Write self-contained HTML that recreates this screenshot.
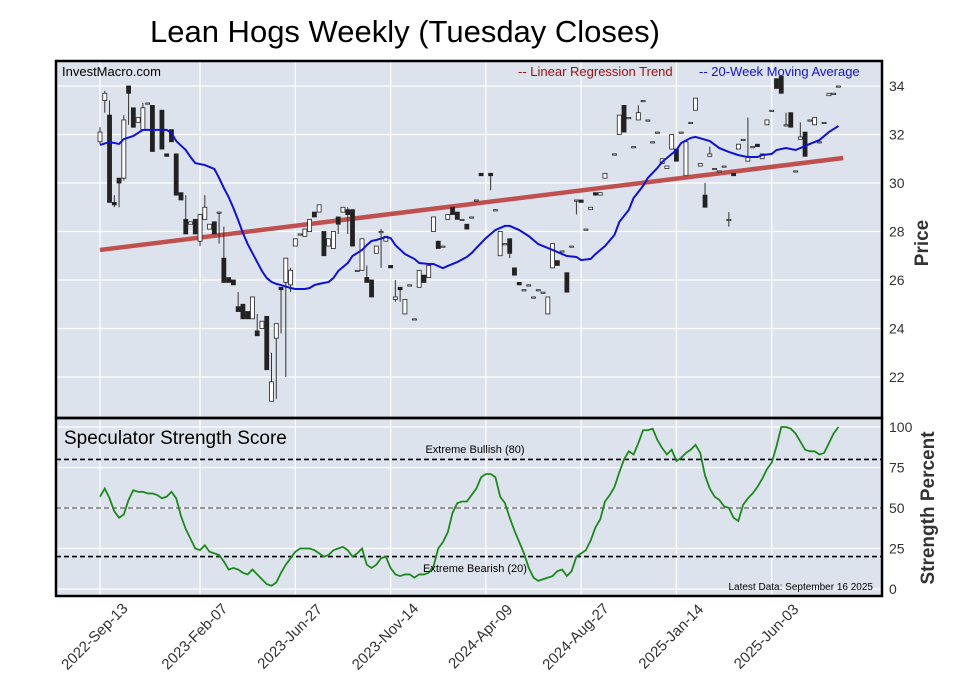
<!DOCTYPE html>
<html><head><meta charset="utf-8"><style>
html,body{margin:0;padding:0;background:#fff;}
svg{display:block;font-family:"Liberation Sans",Arial,sans-serif;}
</style></head><body>
<svg id="chart" width="957" height="694" viewBox="0 0 957 694" xmlns="http://www.w3.org/2000/svg">
<text x="405" y="42" font-size="31" text-anchor="middle" fill="#000">Lean Hogs Weekly (Tuesday Closes)</text>
<rect x="56" y="61" width="826" height="357" fill="#dde3ed"/>
<rect x="56" y="418" width="826" height="178" fill="#dde3ed"/>
<g id="grid"></g>
<g id="regression"></g>
<g id="candles"></g>
<g id="ma"></g>
<g id="strength"></g>
<rect x="56" y="61" width="826" height="357" fill="none" stroke="#000" stroke-width="2.5"/>
<rect x="56" y="418" width="826" height="178" fill="none" stroke="#000" stroke-width="2.5"/>
<text x="62" y="76" font-size="13" fill="#000">InvestMacro.com</text>
<text x="518" y="76" font-size="13" fill="#a01010">-- Linear Regression Trend</text>
<text x="699" y="76" font-size="13" fill="#1010e0">-- 20-Week Moving Average</text>
<text x="64" y="444" font-size="19" fill="#000">Speculator Strength Score</text>
<text x="475" y="453" font-size="11" text-anchor="middle" fill="#000">Extreme Bullish (80)</text>
<text x="475" y="572" font-size="11" text-anchor="middle" fill="#000">Extreme Bearish (20)</text>
<text x="873" y="590" font-size="10" text-anchor="end" fill="#000">Latest Data: September 16 2025</text>
<text transform="translate(928,243) rotate(-90)" font-size="19" font-weight="bold" text-anchor="middle" fill="#333">Price</text>
<text transform="translate(934,508) rotate(-90)" font-size="19" font-weight="bold" text-anchor="middle" fill="#333">Strength Percent</text>
<g id="axes"></g>
</svg>
<script>
const priceTicks=[22,24,26,28,30,32,34];
const strengthTicks=[0,25,50,75,100];
const dateTicks=["2022-Sep-13","2023-Feb-07","2023-Jun-27","2023-Nov-14","2024-Apr-09","2024-Aug-27","2025-Jan-14","2025-Jun-03"];
const dateTickWeeks=[0,21,41,61,81,101,121,141];
const candleWeeks=[0,1,2,3,4,5,6,7,8,9,10,11,13,14,15,16,17,18,19,20,21,22,23,24,25,26,27,28,29,30,31,32,33,34,35,36,37,38,39,40,41,42,43,44,45,46,47,48,49,50,51,52,53,54,55,56,57,58,59,60,61,62,63,64,65,66,67,68,69,70,71,72,73,74,75,76,77,78,79,80,82,83,84,85,86,87,88,89,90,91,92,93,94,95,96,97,98,99,100,101,102,103,104,105,106,108,109,110,111,112,113,114,115,116,117,118,119,120,121,122,123,124,125,126,127,128,129,130,131,132,133,134,135,136,137,138,139,140,141,142,143,144,145,146,147,148,149,150,151,152,153,154,155];
const candleOpen=[31.7,33.4,32.8,29.2,30.2,30.2,34.0,33.1,32.5,32.2,33.3,33.2,33.0,31.2,32.2,31.2,29.6,28.5,28.3,28.5,27.6,28.5,28.1,28.4,28.8,26.9,26.1,26.0,24.9,25.0,24.7,24.4,23.9,24.0,24.5,21.0,23.6,25.7,25.9,25.8,27.4,27.9,27.8,28.0,28.8,28.8,28.0,27.4,27.3,28.6,28.8,28.9,28.9,26.4,26.4,26.1,26.0,27.1,28.0,27.6,26.6,25.2,25.7,24.6,25.8,24.4,25.7,26.2,26.1,28.0,27.6,27.4,28.5,29.0,28.8,28.5,28.3,28.6,29.3,30.4,30.4,28.9,27.0,27.5,27.7,26.5,25.9,25.6,25.8,25.3,25.6,25.5,24.6,26.5,26.8,27.2,26.3,27.4,29.3,29.3,28.1,28.9,29.6,29.5,30.2,31.2,32.0,33.2,32.7,31.5,32.6,33.4,32.6,31.7,32.1,30.8,30.6,31.4,31.4,32.1,30.3,32.5,33.0,30.7,29.5,31.1,30.6,30.5,30.7,28.5,30.4,31.4,31.8,30.9,31.5,31.6,31.0,32.4,33.0,34.3,34.4,32.4,32.9,30.5,31.8,32.1,32.6,32.4,31.7,32.5,33.6,33.7,34.0];
const candleClose=[32.1,33.7,29.2,29.1,30.0,32.6,33.7,32.3,32.7,33.1,33.3,31.3,31.4,31.1,31.7,29.5,29.3,27.9,28.4,27.9,28.7,29.0,28.3,27.9,28.8,25.9,25.9,25.8,24.7,24.4,24.4,25.3,23.7,24.3,22.3,21.8,24.2,25.6,26.9,26.4,27.7,27.9,28.1,28.5,28.6,29.1,27.0,27.7,28.0,28.3,29.0,28.7,27.4,26.4,27.7,25.9,25.3,27.4,28.0,27.8,26.5,25.3,25.6,25.2,25.8,24.4,26.4,25.9,26.6,28.6,27.3,27.4,28.7,28.7,28.5,28.5,28.1,28.6,29.3,30.3,30.3,28.9,28.0,27.5,27.1,26.2,25.8,25.6,25.8,25.3,25.6,25.5,25.3,27.5,26.6,27.2,25.5,27.4,29.3,29.2,28.1,29.0,29.5,29.6,30.4,31.2,32.8,32.1,32.7,31.5,32.9,33.4,32.6,31.7,32.1,31.0,30.7,32.0,30.9,32.1,31.7,32.5,33.5,30.8,29.0,31.2,30.6,30.5,30.7,28.5,30.3,31.6,31.8,31.1,31.5,31.5,31.2,32.6,33.0,33.9,33.7,32.4,32.3,30.5,31.9,31.1,32.6,32.7,31.7,32.5,33.7,33.7,34.0];
const candleHigh=[32.3,33.8,33.4,29.5,30.2,32.8,34.0,33.1,32.7,33.3,33.3,33.2,33.0,31.2,32.2,31.2,29.6,29.5,28.4,28.5,28.7,29.5,28.3,28.4,28.8,28.2,26.1,26.0,25.5,25.0,24.7,25.3,24.6,24.3,24.5,23.0,24.2,25.7,26.9,26.5,27.7,27.9,28.1,28.5,28.8,29.1,28.0,27.7,28.0,28.6,29.0,29.0,28.9,26.4,27.7,26.6,26.0,27.4,28.1,27.8,26.6,26.0,25.7,25.2,25.8,24.4,26.4,26.2,26.6,28.6,27.6,27.4,28.7,29.0,28.8,28.5,28.3,28.6,29.3,30.4,30.4,28.9,28.0,27.5,27.7,26.5,25.9,25.6,25.8,25.3,25.6,25.5,25.3,27.5,26.8,27.2,26.3,27.4,29.3,29.3,28.1,29.0,29.6,29.6,30.4,31.2,32.8,33.2,32.7,31.5,33.2,33.4,32.6,31.7,32.1,31.0,30.7,32.0,31.4,32.1,31.7,32.5,33.5,30.8,30.0,31.5,30.6,30.5,30.7,28.8,30.4,31.6,31.8,32.7,31.5,31.6,31.2,32.6,33.0,34.3,34.4,32.9,32.9,30.5,32.5,32.1,32.6,32.7,31.7,32.5,33.7,33.7,34.0];
const candleLow=[31.6,32.9,29.2,29.0,29.0,30.1,32.4,32.3,32.5,32.2,33.3,31.3,31.4,31.1,31.7,29.5,29.3,27.9,28.3,27.9,27.4,28.5,28.1,27.9,27.5,25.9,25.9,25.8,24.7,24.4,24.4,24.4,23.7,24.0,22.3,21.0,21.1,23.8,22.0,25.5,27.4,27.9,27.8,28.0,28.6,28.8,27.0,27.4,27.3,27.9,28.8,27.9,27.4,26.4,26.4,25.9,25.3,27.1,26.5,27.6,26.5,25.1,25.1,24.6,25.8,24.4,25.7,25.9,26.1,28.0,27.3,27.4,28.5,28.7,28.5,28.5,28.1,28.6,29.3,30.3,29.7,28.9,27.0,27.5,26.9,26.2,25.8,25.6,25.8,25.3,25.6,25.5,24.6,26.5,26.6,27.2,25.5,27.4,28.7,29.2,28.1,28.9,29.5,29.5,30.2,31.2,32.0,32.1,32.7,31.5,32.6,33.4,32.6,31.7,32.1,30.8,30.6,31.4,30.9,32.1,30.3,32.5,33.0,30.7,29.0,31.1,30.6,30.5,30.7,28.2,30.3,31.4,31.8,30.9,31.5,31.5,31.0,32.4,33.0,33.9,33.7,32.4,32.3,30.5,31.8,31.1,32.6,32.4,31.7,32.5,33.6,33.7,34.0];
const maWeeks=[0,2,4,5,7,9,12,14,15,16,18,19,20,22,24,25,26,27,28,29,30,31,32,33,34,35,36,37,38,40,41,43,44,45,46,48,49,50,52,53,55,56,57,58,60,61,62,64,66,67,69,70,72,73,75,77,78,79,81,83,85,86,88,90,92,93,95,97,98,100,101,103,104,106,108,109,111,112,114,115,117,118,121,122,124,125,128,130,132,134,136,138,139,141,142,144,146,147,149,151,153,155];
const maValues=[31.57,31.69,31.61,31.81,31.94,32.19,32.19,32.19,32.06,31.73,31.36,31.07,30.82,30.74,30.58,30.21,29.79,29.42,28.97,28.47,27.94,27.48,27.11,26.74,26.37,26.08,25.92,25.84,25.79,25.67,25.63,25.63,25.67,25.79,25.84,25.92,26.08,26.37,26.70,26.99,27.24,27.44,27.61,27.65,27.77,27.73,27.44,27.07,26.87,26.70,26.66,26.66,26.49,26.58,26.74,26.95,27.11,27.32,27.73,28.06,28.23,28.23,28.06,27.81,27.48,27.40,27.24,27.07,26.99,26.95,26.82,26.87,27.07,27.40,27.86,28.39,28.89,29.38,29.88,30.21,30.62,30.87,31.36,31.65,31.86,31.90,31.73,31.44,31.28,31.15,31.07,31.07,31.15,31.20,31.36,31.44,31.36,31.44,31.61,31.77,32.10,32.35];
const regWeeks=[0,156];
const regValues=[27.24,31.03];
const strengthValues=[57,62,56,48,44,46,55,61,60,60,59,59,58,56,57,60,56,45,37,31,25,24,27,23,22,21,17,12,13,12,10,9,12,9,6,3,2,4,10,15,19,23,25,25,25,24,22,20,21,24,25,26,24,20,22,25,15,13,15,19,20,13,9,8,9,9,7,9,9,10,14,25,29,35,47,53,54,54,58,62,69,71,71,69,57,53,44,36,29,22,13,7,5,6,7,8,11,12,8,11,20,22,24,30,38,43,54,58,63,72,80,85,83,90,98,98,99,92,87,83,86,79,81,84,86,89,84,70,62,57,55,51,50,44,42,52,56,59,63,68,74,78,88,100,100,99,96,91,86,85,85,83,84,90,96,100];

const NS="http://www.w3.org/2000/svg";
function xW(w){return 100+w*4.764;}
function yP(p){return 86+(34-p)*24.25;}
function yS(v){return 589-v*1.62;}
function mk(tag,attrs,parent){const e=document.createElementNS(NS,tag);for(const k in attrs)e.setAttribute(k,attrs[k]);parent.appendChild(e);return e;}

const grid=document.getElementById('grid');
priceTicks.forEach(p=>{const l=mk('line',{x1:56,x2:882,y1:yP(p),y2:yP(p),stroke:'#fff','stroke-width':1.2},grid);

});
strengthTicks.forEach(v=>{const l=mk('line',{x1:56,x2:882,y1:yS(v),y2:yS(v),stroke:'#fff','stroke-width':1.2},grid);

});
dateTickWeeks.forEach(w=>{const l=mk('line',{x1:xW(w),x2:xW(w),y1:61,y2:596,stroke:'#fff','stroke-width':1.2},grid);

});
[[80,'#000','bullish-threshold-line'],[50,'#777','midline-50'],[20,'#000','bearish-threshold-line']].forEach(t=>{
const l=mk('line',{x1:56,x2:882,y1:yS(t[0]),y2:yS(t[0]),stroke:t[1],'stroke-width':1.6,'stroke-dasharray':'5,3'},grid);

});

const reg=document.getElementById('regression');
const rl=mk('line',{x1:xW(regWeeks[0]),y1:yP(regValues[0]),x2:xW(regWeeks[1]),y2:yP(regValues[1]),stroke:'#c0504d','stroke-width':4.5},reg);



const cg=document.getElementById('candles');
candleWeeks.forEach((w,i)=>{
const x=xW(w),o=candleOpen[i],c=candleClose[i],h=candleHigh[i],lo=candleLow[i];
const wk=mk('line',{x1:x,x2:x,y1:yP(h),y2:yP(lo),stroke:'#333','stroke-width':1},cg);


const top=yP(Math.max(o,c)),bot=yP(Math.min(o,c));
const up=c>=o;
const b=mk('rect',{x:x-2,y:top,width:4,height:Math.max(1.2,bot-top),fill:up?'#fff':'#222',stroke:'#222','stroke-width':0.8},cg);


});

const mg=document.getElementById('ma');
const mp=mk('polyline',{points:maWeeks.map((w,i)=>xW(w)+','+yP(maValues[i])).join(' '),fill:'none',stroke:'#1010dd','stroke-width':2},mg);



const sg=document.getElementById('strength');
const sp=mk('polyline',{points:strengthValues.map((v,i)=>xW(i)+','+yS(v)).join(' '),fill:'none',stroke:'#1a8a1a','stroke-width':1.8},sg);



const ax=document.getElementById('axes');
priceTicks.forEach(p=>{const t=mk('text',{x:889,y:yP(p)+5,'font-size':14,fill:'#333'},ax);t.textContent=p;

});
strengthTicks.forEach(v=>{const t=mk('text',{x:889,y:yS(v)+5,'font-size':14,fill:'#333'},ax);t.textContent=v;

});
dateTicks.forEach((d,i)=>{const x=xW(dateTickWeeks[i])-2;
const t=mk('text',{transform:'translate('+x+',640) rotate(-45)','font-size':15,fill:'#333','text-anchor':'middle'},ax);t.textContent=d;

});
</script>
</body></html>
